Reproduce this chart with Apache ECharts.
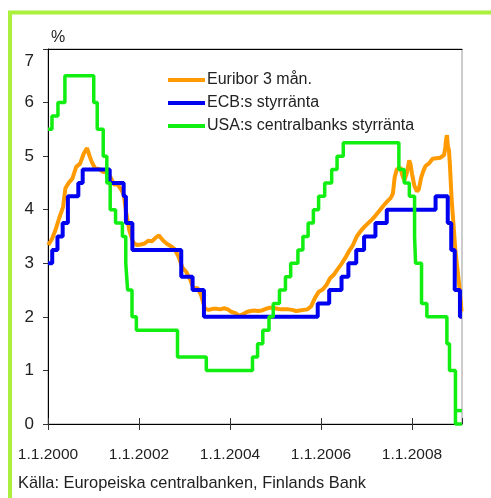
<!DOCTYPE html>
<html>
<head>
<meta charset="utf-8">
<script src="https://cdn.jsdelivr.net/npm/echarts@6/dist/echarts.min.js"></script>
<style>
  html, body { margin: 0; padding: 0; background: #fff; }
  #chart { width: 491px; height: 498px; }
</style>
</head>
<body>
<div id="chart"></div>
<script>
  // Euribor 3 mån. (roughly monthly)
  var euriborDates = [
    '2000-01-03','2000-02-01','2000-03-01','2000-04-01','2000-05-01','2000-05-20','2000-06-15','2000-07-15','2000-08-15','2000-09-15','2000-10-15','2000-11-10','2000-12-01','2000-12-20',
    '2001-01-15','2001-02-15','2001-03-15','2001-04-15','2001-05-15','2001-06-15','2001-07-15','2001-08-15','2001-09-01','2001-09-20','2001-10-15','2001-11-15','2001-12-15',
    '2002-01-15','2002-02-15','2002-03-15','2002-04-15','2002-05-15','2002-06-10','2002-07-15','2002-08-15','2002-09-15','2002-10-15','2002-11-15','2002-12-15',
    '2003-01-15','2003-02-15','2003-03-15','2003-04-15','2003-05-15','2003-06-15','2003-07-15','2003-08-15','2003-09-15','2003-10-15','2003-11-15','2003-12-15',
    '2004-01-15','2004-02-15','2004-03-15','2004-04-15','2004-05-15','2004-06-15','2004-07-15','2004-08-15','2004-09-15','2004-10-15','2004-11-15','2004-12-15',
    '2005-01-15','2005-02-15','2005-03-15','2005-04-15','2005-05-15','2005-06-15','2005-07-15','2005-08-15','2005-09-15','2005-10-15','2005-11-15','2005-12-15',
    '2006-01-15','2006-02-15','2006-03-15','2006-04-15','2006-05-15','2006-06-15','2006-07-15','2006-08-15','2006-09-15','2006-10-15','2006-11-15','2006-12-15',
    '2007-01-15','2007-02-15','2007-03-15','2007-04-15','2007-05-15','2007-06-15','2007-07-15','2007-08-01','2007-08-15','2007-09-01','2007-09-15','2007-10-01','2007-10-15','2007-11-01','2007-11-20','2007-12-10','2007-12-20',
    '2008-01-01','2008-01-20','2008-02-10','2008-02-25','2008-03-15','2008-04-01','2008-04-20','2008-05-15','2008-06-15','2008-07-15','2008-08-15','2008-09-15','2008-09-25','2008-10-01','2008-10-09','2008-10-15','2008-10-25','2008-11-01','2008-11-15','2008-12-01','2008-12-15',
    '2009-01-01','2009-01-15','2009-02-03'
  ];
  var euriborValues = [
    3.34,3.45,3.62,3.85,4.05,4.40,4.50,4.58,4.80,4.86,5.05,5.15,5.00,4.88,
    4.77,4.76,4.71,4.70,4.62,4.47,4.47,4.36,4.28,3.95,3.62,3.39,3.34,
    3.35,3.37,3.42,3.41,3.48,3.52,3.42,3.36,3.32,3.26,3.12,2.92,
    2.84,2.70,2.53,2.54,2.40,2.15,2.13,2.15,2.15,2.14,2.16,2.14,
    2.09,2.07,2.02,2.05,2.09,2.11,2.12,2.11,2.12,2.15,2.17,2.17,
    2.15,2.14,2.14,2.14,2.13,2.11,2.12,2.13,2.14,2.20,2.36,2.47,
    2.51,2.60,2.72,2.79,2.89,2.99,3.10,3.23,3.34,3.50,3.60,3.68,
    3.75,3.82,3.89,3.98,4.07,4.15,4.22,4.30,4.60,4.75,4.72,4.79,4.65,4.55,4.68,4.92,4.85,
    4.68,4.45,4.34,4.38,4.60,4.72,4.82,4.86,4.95,4.96,4.97,5.02,5.15,5.30,5.39,5.20,5.10,4.85,4.20,3.70,3.25,
    2.89,2.60,2.10
  ];

  // ECB:s styrränta (step, value valid from date)
  var ecbDates = [
    '2000-01-01','2000-02-04','2000-03-17','2000-04-28','2000-06-09','2000-09-01','2000-10-06',
    '2001-05-11','2001-08-31','2001-09-18','2001-11-09','2002-12-06','2003-03-07','2003-06-06',
    '2005-12-06','2006-03-08','2006-06-15','2006-08-09','2006-10-11','2006-12-13','2007-03-14','2007-06-13',
    '2008-07-09','2008-10-15','2008-11-12','2008-12-10','2009-01-21','2009-02-05'
  ];
  var ecbValues = [
    3.00,3.25,3.50,3.75,4.25,4.50,4.75,
    4.50,4.25,3.75,3.25,2.75,2.50,2.00,
    2.25,2.50,2.75,3.00,3.25,3.50,3.75,4.00,
    4.25,3.75,3.25,2.50,2.00,2.00
  ];

  // USA:s centralbanks styrränta (step, value valid from date)
  var fedDates = [
    '2000-01-01','2000-02-02','2000-03-21','2000-05-16','2001-01-03','2001-01-31','2001-03-20','2001-04-18',
    '2001-05-15','2001-06-27','2001-08-21','2001-09-17','2001-10-02','2001-11-06','2001-12-11','2002-11-06',
    '2003-06-25','2004-06-30','2004-08-10','2004-09-21','2004-11-10','2004-12-14','2005-02-02','2005-03-22',
    '2005-05-03','2005-06-30','2005-08-09','2005-09-20','2005-11-01','2005-12-13','2006-01-31','2006-03-28',
    '2006-05-10','2006-06-29','2007-09-18','2007-10-31','2007-12-11','2008-01-22','2008-01-30','2008-03-18',
    '2008-04-30','2008-10-08','2008-10-29','2008-12-16','2009-02-05'
  ];
  var fedValues = [
    5.50,5.75,6.00,6.50,6.00,5.50,5.00,4.50,
    4.00,3.75,3.50,3.00,2.50,2.00,1.75,1.25,
    1.00,1.25,1.50,1.75,2.00,2.25,2.50,2.75,
    3.00,3.25,3.50,3.75,4.00,4.25,4.50,4.75,
    5.00,5.25,4.75,4.50,4.25,3.50,3.00,2.25,
    2.00,1.50,1.00,0.00,0.00
  ];
  // upper end of the 0-0.25 target range
  var fedRangeDates = ['2008-12-16','2009-02-05'];
  var fedRangeValues = [0.25, 0.25];

  var yearTicks = [2000, 2002, 2004, 2006, 2008];
  var seriesNames = ['Euribor 3 mån.', 'ECB:s styrränta', 'USA:s centralbanks styrränta'];
  var sourceText = 'Källa: Europeiska centralbanken, Finlands Bank';

  function toYear(s) {
    var p = s.split('-');
    var y = +p[0];
    var t = Date.UTC(y, +p[1] - 1, +p[2]);
    var a = Date.UTC(y, 0, 1), b = Date.UTC(y + 1, 0, 1);
    return y + (t - a) / (b - a);
  }
  function pairs(dates, values) {
    return dates.map(function (d, i) { return [toYear(d), values[i]]; });
  }

  var font = '"Liberation Sans", Arial, sans-serif';
  var textColor = '#222';

  var myChart = echarts.init(document.getElementById('chart'));

  var option = {
    animation: false,
    backgroundColor: '#fff',
    textStyle: { fontFamily: font },
    grid: {
      left: 48, top: 49, width: 414, height: 375,
      show: true, borderColor: '#999', borderWidth: 1
    },
    legend: {
      data: seriesNames,
      orient: 'vertical',
      left: 163, top: 67,
      icon: 'rect',
      itemWidth: 37, itemHeight: 4, itemGap: 7,
      textStyle: { fontFamily: font, fontSize: 16, lineHeight: 16, color: textColor, padding: [0, 0, 0, -3] }
    },
    xAxis: [
      {
        type: 'value', min: 2000, max: 2009.1, interval: 2,
        axisLine: { lineStyle: { color: '#000', width: 1 } },
        axisTick: { length: 6, lineStyle: { color: '#333' } },
        axisLabel: {
          margin: 23, fontSize: 15.5, color: textColor, showMaxLabel: false,
          formatter: function (v) { return yearTicks.indexOf(v) >= 0 ? '1.1.' + v : ''; }
        },
        splitLine: { show: false }
      },
      {
        type: 'value', min: 2000, max: 2009.1, interval: 2, position: 'bottom',
        axisLine: { show: false },
        axisTick: { inside: true, length: 6, lineStyle: { color: '#333' } },
        axisLabel: { show: false },
        splitLine: { show: false }
      },
      {
        type: 'value', min: 2000, max: 2009.1, position: 'top',
        axisLine: { lineStyle: { color: '#000', width: 1 } },
        axisTick: { show: false },
        axisLabel: { show: false },
        splitLine: { show: false }
      }
    ],
    yAxis: {
      type: 'value', min: 0, max: 7, interval: 1,
      name: '%', nameLocation: 'end', nameGap: 11,
      nameTextStyle: { fontFamily: font, fontSize: 16, color: textColor, align: 'left', verticalAlign: 'middle', padding: [0, 0, 0, 3] },
      axisLine: { show: true, lineStyle: { color: '#000', width: 1 } },
      axisTick: { show: true, length: 5, lineStyle: { color: '#333' } },
      axisLabel: {
        margin: 14, fontSize: 17, color: textColor,
        formatter: function (v) { return v === 7 ? '{top|7}' : String(v); },
        rich: { top: { fontSize: 17, fontFamily: font, color: textColor, padding: [24, 0, 0, 0] } }
      },
      splitLine: { show: false }
    },
    series: [
      {
        name: seriesNames[0], type: 'line', showSymbol: false, symbol: 'none', clip: false,
        data: pairs(euriborDates, euriborValues),
        lineStyle: { color: '#ff9a00', width: 4 }, itemStyle: { color: '#ff9a00' }
      },
      {
        name: seriesNames[1], type: 'line', step: 'end', showSymbol: false, symbol: 'none', clip: false,
        data: pairs(ecbDates, ecbValues),
        lineStyle: { color: '#0000f0', width: 4 }, itemStyle: { color: '#0000f0' }
      },
      {
        name: seriesNames[2], type: 'line', step: 'end', showSymbol: false, symbol: 'none', clip: false,
        data: pairs(fedDates, fedValues),
        lineStyle: { color: '#11ee11', width: 3.5 }, itemStyle: { color: '#11ee11' }
      },
      {
        name: seriesNames[2], type: 'line', showSymbol: false, symbol: 'none', clip: false,
        data: pairs(fedRangeDates, fedRangeValues),
        lineStyle: { color: '#11ee11', width: 3.5 }, itemStyle: { color: '#11ee11' }
      }
    ],
    graphic: [
      {
        type: 'rect', silent: true, z: 100,
        shape: { x: 10, y: 12.5, width: 1000, height: 1000 },
        style: { fill: 'none', stroke: '#aaf03c', lineWidth: 4 }
      },
      {
        type: 'text', left: 18, top: 475, silent: true,
        style: { text: sourceText, font: '16.4px ' + font, fill: textColor }
      }
    ]
  };

  myChart.setOption(option);
  window.addEventListener('resize', function () {
    myChart.resize();
  });
</script>
</body>
</html>
